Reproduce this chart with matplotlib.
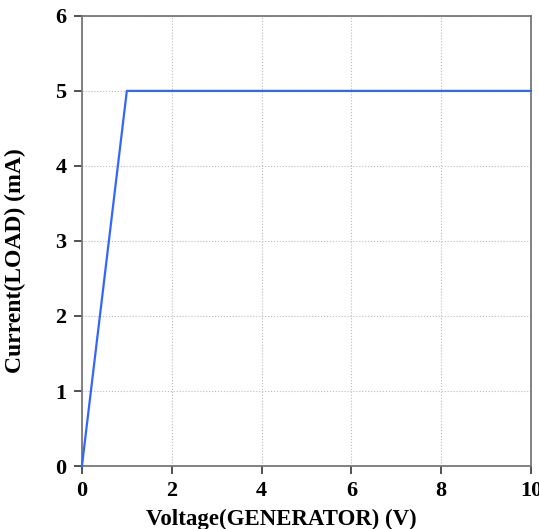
import matplotlib
matplotlib.use("Agg")
import matplotlib.pyplot as plt

# voltage of generator (V) and load current (mA)
voltage = [0.0, 1.0, 10.0]
current = [0.0, 5.0, 5.0]

plt.rcParams['font.family'] = ['Liberation Serif', 'DejaVu Serif']
plt.rcParams['font.weight'] = 'bold'

fig = plt.figure(figsize=(5.39, 5.29), dpi=100)
ax = fig.add_axes([0.152, 0.119, 0.833, 0.851])

ax.plot(voltage, current, color='#3366ff', lw=1.6, clip_on=False, zorder=3)

ax.set_xlim(0, 10)
ax.set_ylim(0, 6)
ax.set_xticks([0, 2, 4, 6, 8, 10])
ax.set_yticks([0, 1, 2, 3, 4, 5, 6])
ax.grid(True, linestyle=':', color='#bbbbbb', lw=0.8)

for s in ax.spines.values():
    s.set_color('#777777')
    s.set_linewidth(1.3)

ax.tick_params(direction='out', length=6, width=1.2, color='#333333',
               labelsize=16, pad=5)
for lab in ax.get_xticklabels() + ax.get_yticklabels():
    lab.set_fontweight('bold')

ax.set_xlabel("Voltage(GENERATOR) (V)", fontsize=16.5, fontweight='bold')
ax.set_ylabel("Current(LOAD) (mA)", fontsize=17, fontweight='bold')
ax.xaxis.set_label_coords(0.445, -0.096)
ax.yaxis.set_label_coords(-0.125, 0.456)

fig.savefig("out.png", dpi=100)
